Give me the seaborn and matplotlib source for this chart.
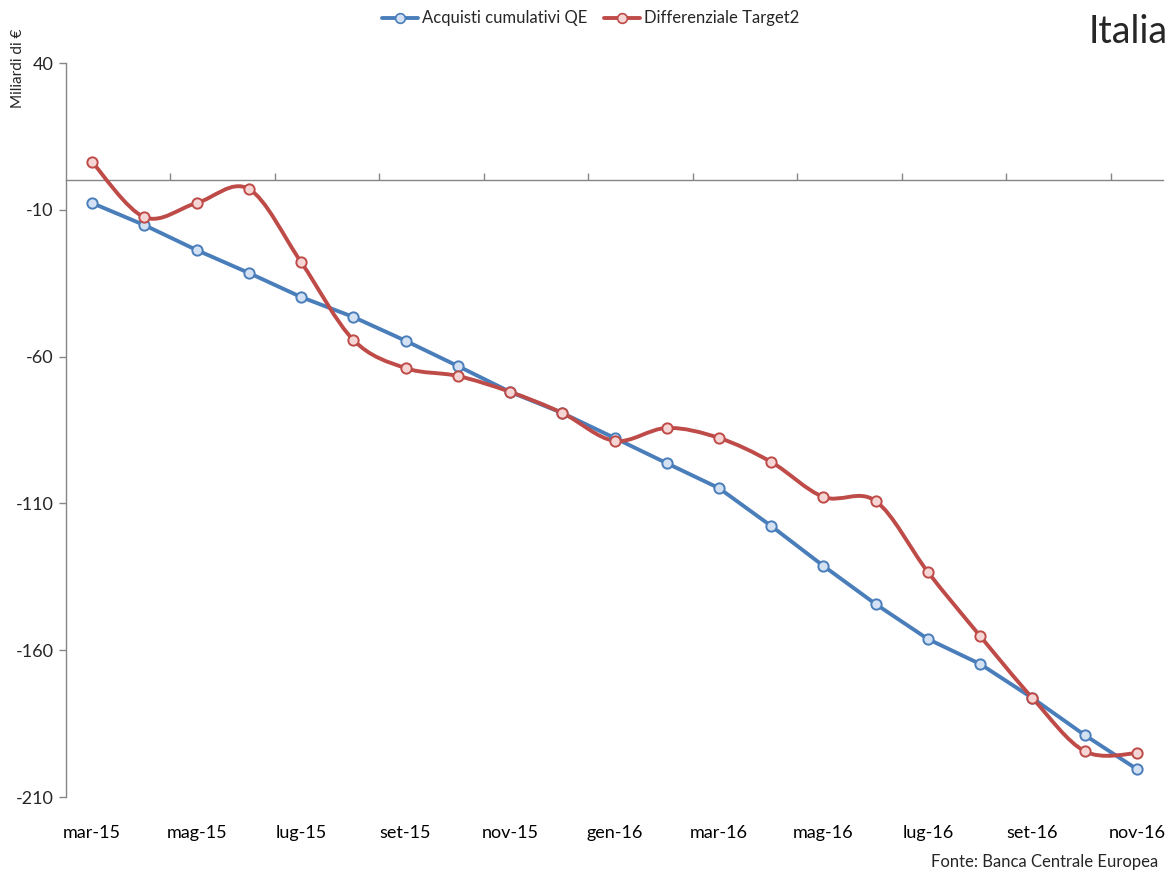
import numpy as np
import pandas as pd
import seaborn as sns
import matplotlib.pyplot as plt
from matplotlib.path import Path
from matplotlib.patches import PathPatch
from matplotlib.lines import Line2D

sns.set_theme(style="white")
plt.rcParams['font.family'] = ['Lato', 'DejaVu Sans']

# Dati (miliardi di euro)
mesi = ['mar-15', 'apr-15', 'mag-15', 'giu-15', 'lug-15', 'ago-15', 'set-15',
        'ott-15', 'nov-15', 'dic-15', 'gen-16', 'feb-16', 'mar-16', 'apr-16',
        'mag-16', 'giu-16', 'lug-16', 'ago-16', 'set-16', 'ott-16', 'nov-16']
qe = [-7.7, -15.2, -23.7, -31.5, -39.7, -46.5, -54.6, -63.2, -72.0, -79.2, -87.7,
      -96.3, -104.8, -117.7, -131.3, -144.3, -156.2, -164.7, -176.3, -188.9, -200.5]
target2 = [6.3, -12.5, -7.7, -2.9, -27.8, -54.3, -63.9, -66.6, -72.0, -79.2, -88.7,
           -84.3, -87.7, -95.9, -107.8, -109.2, -133.4, -155.2, -176.3, -194.4, -195.1]
y_ticks = [40, -10, -60, -110, -160, -210]

BLUE = '#4A7EBB'
BLUE_FACE = '#D3E1F3'
RED = '#BE4B48'
RED_FACE = '#F5D6D5'
GRID = '#868686'

df = pd.DataFrame({'pos': np.arange(len(mesi)), 'mese': mesi, 'qe': qe, 'target2': target2})

fig = plt.figure(figsize=(11.76, 8.75), dpi=100)
ax = fig.add_axes([0.0561, 0.0891, 0.989 - 0.0561, 0.928 - 0.0891])

# Linea QE (dritta)
sns.lineplot(data=df, x='pos', y='qe', ax=ax, color=BLUE, linewidth=2.8, zorder=3)

# Linea Target2 smussata (stile Excel, Bezier)
px = df['pos'].to_numpy(float)
py = df['target2'].to_numpy(float)
verts = [(px[0], py[0])]
codes = [Path.MOVETO]
n = len(px)
for i in range(n - 1):
    p0 = np.array([px[max(i - 1, 0)], py[max(i - 1, 0)]])
    p1 = np.array([px[i], py[i]])
    p2 = np.array([px[i + 1], py[i + 1]])
    p3 = np.array([px[min(i + 2, n - 1)], py[min(i + 2, n - 1)]])
    c1 = p1 + (p2 - p0) / 6
    c2 = p2 - (p3 - p1) / 6
    verts += [tuple(c1), tuple(c2), tuple(p2)]
    codes += [Path.CURVE4] * 3
ax.add_patch(PathPatch(Path(verts, codes), fill=False, edgecolor=RED, lw=2.8,
                       capstyle='round', joinstyle='round', zorder=4))

# Marcatori
sns.scatterplot(data=df, x='pos', y='qe', ax=ax, s=55, color=BLUE_FACE,
                edgecolor=BLUE, linewidth=1.4, zorder=5)
sns.scatterplot(data=df, x='pos', y='target2', ax=ax, s=55, color=RED_FACE,
                edgecolor=RED, linewidth=1.4, zorder=6)

ax.set_xlim(-0.5, len(mesi) - 0.5)
ax.set_ylim(-210, 40)
ax.set_yticks(y_ticks)
ax.set_yticklabels([str(v) for v in y_ticks])
ax.set_xticks(df['pos'][::2])
ax.set_xticklabels(mesi[::2])
ax.set_xlabel('')
ax.set_ylabel('')
ax.tick_params(axis='x', length=0, pad=20, labelsize=13, colors='black')
ax.tick_params(axis='y', length=5, width=1, color=GRID, direction='out',
               pad=4, labelsize=13, left=True)

for s in ['top', 'right', 'bottom']:
    ax.spines[s].set_visible(False)
ax.spines['left'].set_color(GRID)
ax.spines['left'].set_linewidth(1)

# Asse orizzontale a zero con tacche (posizione in frazione dell'asse dal basso)
sec = ax.secondary_xaxis(210 / 250)
sec.set_xticks(np.arange(1.5, len(mesi) - 1, 2))
sec.set_xticklabels([])
sec.tick_params(axis='x', length=5, width=1, color=GRID, direction='out')
for s in sec.spines.values():
    s.set_color(GRID)
    s.set_linewidth(1)

handles = [
    Line2D([], [], color=BLUE, lw=2.8, marker='o', ms=7, mfc=BLUE_FACE, mec=BLUE, mew=1.2),
    Line2D([], [], color=RED, lw=2.8, marker='o', ms=7, mfc=RED_FACE, mec=RED, mew=1.2),
]
fig.legend(handles, ['Acquisti cumulativi QE', 'Differenziale Target2'],
           loc='center', bbox_to_anchor=(0.502, 0.979), ncol=2, frameon=False,
           fontsize=12, handlelength=2.2, handletextpad=0.2, columnspacing=1.0)

fig.text(0.993, 0.963, 'Italia', ha='right', va='center', fontsize=27)
fig.text(0.015, 0.922, 'Miliardi di €', rotation=90, ha='center', va='center', fontsize=11)
fig.text(0.985, 0.015, 'Fonte: Banca Centrale Europea', ha='right', va='center', fontsize=12)

fig.savefig('out.png', dpi=100)
